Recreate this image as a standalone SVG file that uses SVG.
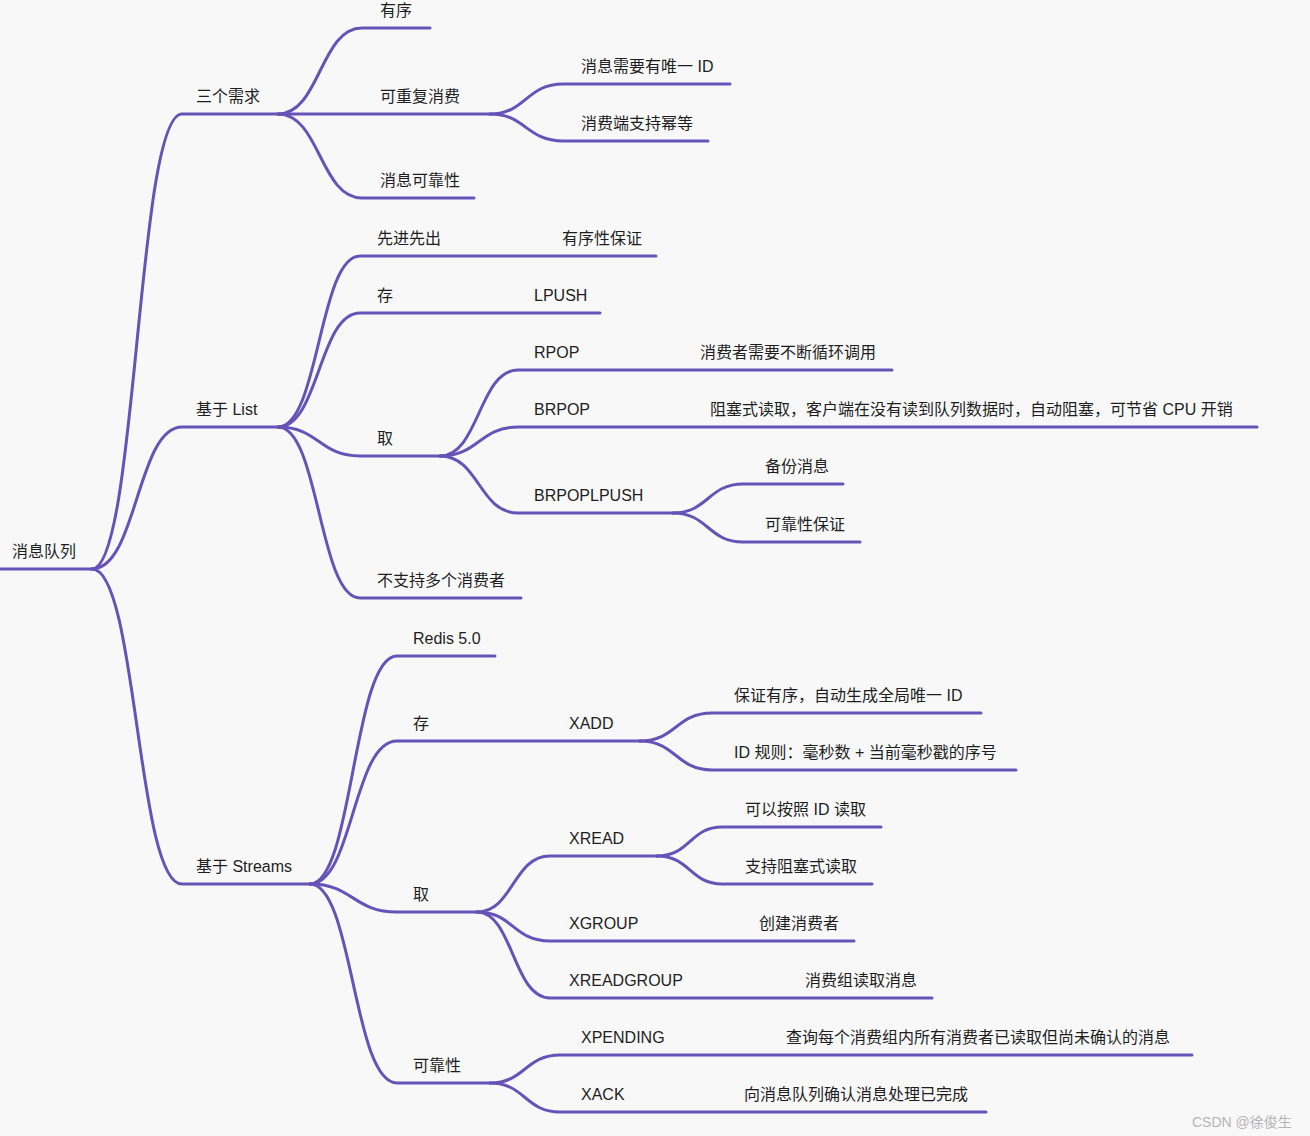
<svg xmlns="http://www.w3.org/2000/svg" width="1310" height="1136" viewBox="0 0 1310 1136">
<style>
.bg{fill:#f8f8f9}
.e{fill:none;stroke:#6553b8;stroke-width:3;stroke-linecap:round}
text{font-family:"Liberation Sans","Noto Sans CJK SC",sans-serif;font-size:16px;fill:#1e1e1e}
.wm{font-size:14px;fill:#b4b4b4}
</style>
<rect class="bg" x="0" y="0" width="1310" height="1136"/>
<g id="connectors">
<path class="e" d="M0 569 H92"/>
<path class="e" d="M92 569 C137 569 137 114 182 114 H278"/>
<path class="e" d="M92 569 C137 569 137 427 182 427 H278"/>
<path class="e" d="M92 569 C137 569 137 884 182 884 H310"/>
<path class="e" d="M278 114 C320 114 320 28 362 28 H430"/>
<path class="e" d="M278 114 H490"/>
<path class="e" d="M278 114 C320 114 320 198 362 198 H474"/>
<path class="e" d="M490 114 C526 114 526 84 563 84 H730"/>
<path class="e" d="M490 114 C526 114 526 141 563 141 H708"/>
<path class="e" d="M278 427 C319 427 319 256 360 256 H656"/>
<path class="e" d="M278 427 C319 427 319 313 360 313 H600"/>
<path class="e" d="M278 427 C319 427 319 456 360 456 H440"/>
<path class="e" d="M278 427 C319 427 319 598 360 598 H521"/>
<path class="e" d="M440 456 C479 456 479 370 518 370 H892"/>
<path class="e" d="M440 456 C479 456 479 427 518 427 H1257"/>
<path class="e" d="M440 456 C479 456 479 513 518 513 H673"/>
<path class="e" d="M673 513 C708 513 708 484 743 484 H843"/>
<path class="e" d="M673 513 C708 513 708 542 743 542 H860"/>
<path class="e" d="M310 884 C353 884 353 656 397 656 H495"/>
<path class="e" d="M310 884 C353 884 353 741 397 741 H640"/>
<path class="e" d="M310 884 C353 884 353 912 397 912 H477"/>
<path class="e" d="M310 884 C353 884 353 1083 397 1083 H490"/>
<path class="e" d="M640 741 C676 741 676 713 712 713 H981"/>
<path class="e" d="M640 741 C676 741 676 770 712 770 H1016"/>
<path class="e" d="M477 912 C513 912 513 856 550 856 H657"/>
<path class="e" d="M477 912 C513 912 513 941 550 941 H854"/>
<path class="e" d="M477 912 C513 912 513 998 550 998 H932"/>
<path class="e" d="M657 856 C690 856 690 827 722 827 H881"/>
<path class="e" d="M657 856 C690 856 690 884 722 884 H872"/>
<path class="e" d="M490 1083 C525 1083 525 1055 560 1055 H1192"/>
<path class="e" d="M490 1083 C525 1083 525 1112 560 1112 H986"/>
</g>
<g id="n-root"><text x="12" y="557">消息队列</text></g>
<g id="n-req"><text x="196" y="102">三个需求</text></g>
<g id="n-order"><text x="380" y="16">有序</text></g>
<g id="n-repeat"><text x="380" y="102">可重复消费</text></g>
<g id="n-uid"><text x="581" y="72">消息需要有唯一 ID</text></g>
<g id="n-idem"><text x="581" y="129">消费端支持幂等</text></g>
<g id="n-rel"><text x="380" y="186">消息可靠性</text></g>
<g id="n-list"><text x="196" y="415">基于 List</text></g>
<g id="n-fifo"><text x="377" y="244">先进先出</text></g>
<g id="n-fifo-c"><text x="562" y="244">有序性保证</text></g>
<g id="n-lsave"><text x="377" y="301">存</text></g>
<g id="n-lpush"><text x="534" y="301">LPUSH</text></g>
<g id="n-lget"><text x="377" y="444">取</text></g>
<g id="n-rpop"><text x="534" y="358">RPOP</text></g>
<g id="n-rpop-c"><text x="700" y="358">消费者需要不断循环调用</text></g>
<g id="n-brpop"><text x="534" y="415">BRPOP</text></g>
<g id="n-brpop-c"><text x="710" y="415">阻塞式读取，客户端在没有读到队列数据时，自动阻塞，可节省 CPU 开销</text></g>
<g id="n-brpoplpush"><text x="534" y="501">BRPOPLPUSH</text></g>
<g id="n-backup"><text x="765" y="472">备份消息</text></g>
<g id="n-relg"><text x="765" y="530">可靠性保证</text></g>
<g id="n-nomulti"><text x="377" y="586">不支持多个消费者</text></g>
<g id="n-streams"><text x="196" y="872">基于 Streams</text></g>
<g id="n-redis"><text x="413" y="644">Redis 5.0</text></g>
<g id="n-ssave"><text x="413" y="729">存</text></g>
<g id="n-xadd"><text x="569" y="729">XADD</text></g>
<g id="n-xadd1"><text x="734" y="701">保证有序，自动生成全局唯一 ID</text></g>
<g id="n-xadd2"><text x="734" y="758">ID 规则：毫秒数 + 当前毫秒戳的序号</text></g>
<g id="n-sget"><text x="413" y="900">取</text></g>
<g id="n-xread"><text x="569" y="844">XREAD</text></g>
<g id="n-xread1"><text x="745" y="815">可以按照 ID 读取</text></g>
<g id="n-xread2"><text x="745" y="872">支持阻塞式读取</text></g>
<g id="n-xgroup"><text x="569" y="929">XGROUP</text></g>
<g id="n-xgroup-c"><text x="759" y="929">创建消费者</text></g>
<g id="n-xreadgroup"><text x="569" y="986">XREADGROUP</text></g>
<g id="n-xreadgroup-c"><text x="805" y="986">消费组读取消息</text></g>
<g id="n-srel"><text x="413" y="1071">可靠性</text></g>
<g id="n-xpending"><text x="581" y="1043">XPENDING</text></g>
<g id="n-xpending-c"><text x="786" y="1043">查询每个消费组内所有消费者已读取但尚未确认的消息</text></g>
<g id="n-xack"><text x="581" y="1100">XACK</text></g>
<g id="n-xack-c"><text x="744" y="1100">向消息队列确认消息处理已完成</text></g>
<text class="wm" x="1192" y="1127">CSDN @徐俊生</text>
</svg>
